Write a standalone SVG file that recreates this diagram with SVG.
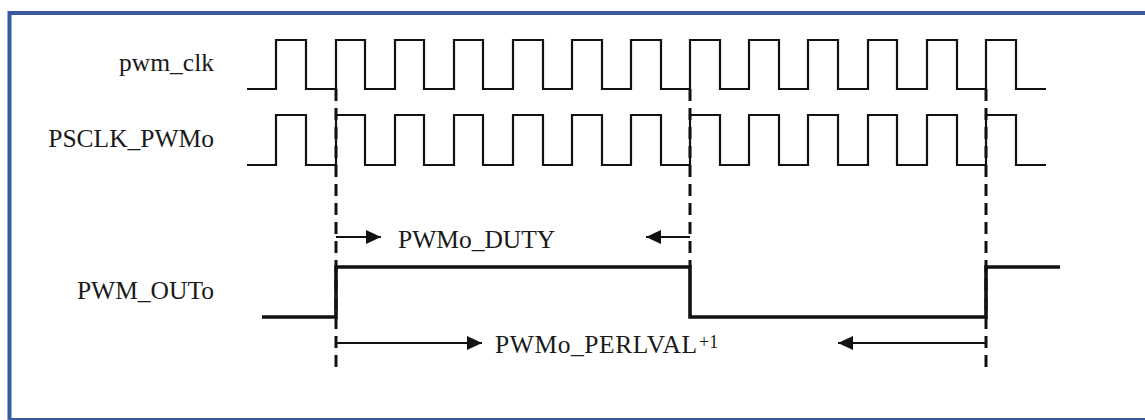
<svg xmlns="http://www.w3.org/2000/svg" width="1145" height="420" viewBox="0 0 1145 420">
<style>
.lbl{font-family:"Liberation Serif","Times New Roman",serif;font-size:25.5px;fill:#1a1a1a}
.sup{font-family:"Liberation Serif","Times New Roman",serif;font-size:18px;fill:#1a1a1a}
.clk{fill:none;stroke:#111;stroke-width:2.2;stroke-linejoin:miter}
.out{fill:none;stroke:#111;stroke-width:3.6;stroke-linejoin:miter}
.dash{fill:none;stroke:#111;stroke-width:3;stroke-dasharray:12 7}
.arr{fill:none;stroke:#111;stroke-width:2}
.frame{fill:none;stroke:#3a5aa2}
</style>
<defs>
<marker id="ah" viewBox="0 0 15 14" refX="15" refY="7" markerWidth="15" markerHeight="14" markerUnits="userSpaceOnUse" orient="auto">
<path d="M0 0 L15 7 L0 14 Z" fill="#111"/>
</marker>
</defs>
<rect width="1145" height="420" fill="#fff"/>
<g id="frame">
<path class="frame" d="M9.5 420 V13 H1145" stroke-width="4"/>
<path class="frame" d="M9.5 419 H1145" stroke-width="2"/>
</g>
<g id="pwm_clk">
<text class="lbl" x="214" y="71" text-anchor="end">pwm_clk</text>
<path class="clk" d="M247 89 H276 V40 H306 V89 H336 V40 H365 V89 H395 V40 H424 V89 H454 V40 H483 V89 H513 V40 H543 V89 H572 V40 H602 V89 H631 V40 H661 V89 H690 V40 H720 V89 H749 V40 H779 V89 H808 V40 H838 V89 H868 V40 H897 V89 H927 V40 H957 V89 H986 V40 H1016 V89 H1046"/>
</g>
<g id="psclk_pwm0">
<text class="lbl" x="214" y="147" text-anchor="end">PSCLK_PWMo</text>
<path class="clk" d="M247 165 H276 V115 H306 V165 H336 V115 H365 V165 H395 V115 H424 V165 H454 V115 H483 V165 H513 V115 H543 V165 H572 V115 H602 V165 H631 V115 H661 V165 H690 V115 H720 V165 H749 V115 H779 V165 H808 V115 H838 V165 H868 V115 H897 V165 H927 V115 H957 V165 H986 V115 H1016 V165 H1046"/>
</g>
<g id="pwm_out0">
<text class="lbl" x="214" y="299" text-anchor="end">PWM_OUTo</text>
<path class="out" d="M262 317 H336 V267 H690 V317 H986 V267 H1060"/>
</g>
<g id="connectors">
<line class="dash" x1="336" y1="89" x2="336" y2="367"/>
<line class="dash" x1="690" y1="89" x2="690" y2="267"/>
<line class="dash" x1="986" y1="89" x2="986" y2="367"/>
<line class="arr" x1="336" y1="237" x2="381" y2="237" marker-end="url(#ah)"/>
<line class="arr" x1="690" y1="237" x2="646" y2="237" marker-end="url(#ah)"/>
<line class="arr" x1="336" y1="343" x2="482" y2="343" marker-end="url(#ah)"/>
<line class="arr" x1="986" y1="343" x2="838" y2="343" marker-end="url(#ah)"/>
</g>
<g id="duty_label">
<text class="lbl" x="398" y="248">PWMo_DUTY</text>
</g>
<g id="perlval_label">
<text class="lbl" x="495" y="353" textLength="202" lengthAdjust="spacing">PWMo_PERLVAL</text>
<text class="sup" x="699" y="348">+1</text>
</g>
</svg>
